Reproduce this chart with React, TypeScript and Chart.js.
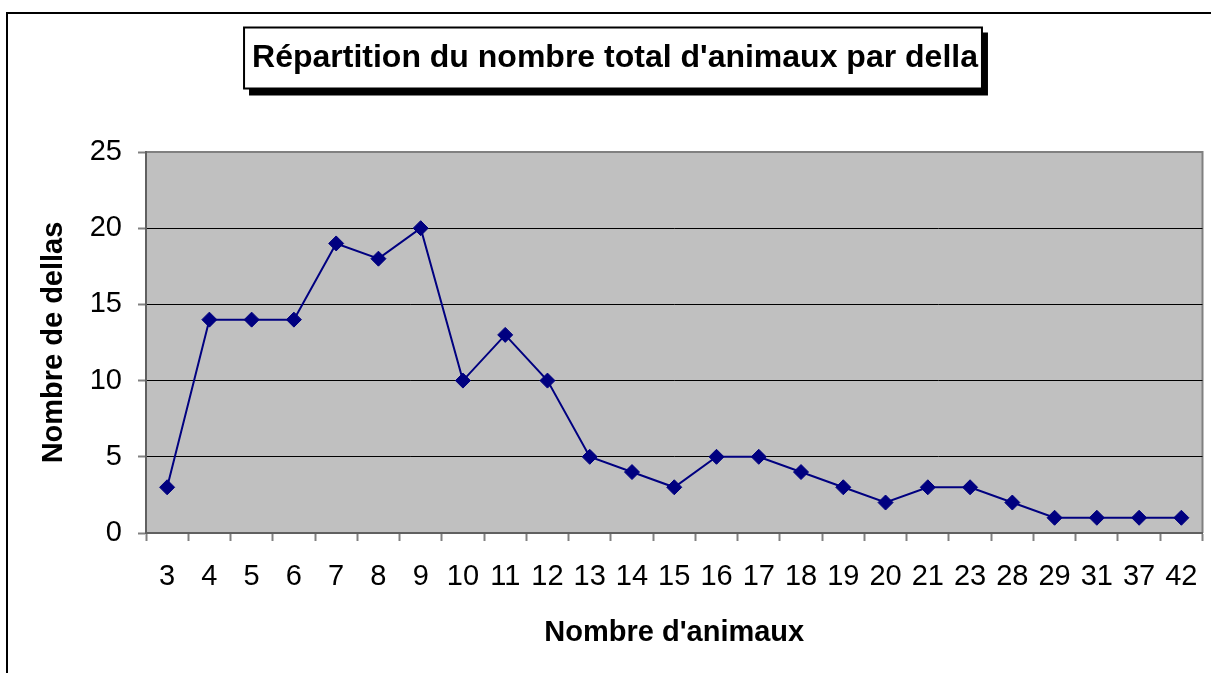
import React, { useEffect, useRef } from "react";
import { Chart, registerables } from "chart.js";

Chart.register(...registerables);

const categories: string[] = ["3", "4", "5", "6", "7", "8", "9", "10", "11", "12", "13", "14", "15", "16", "17", "18", "19", "20", "21", "23", "28", "29", "31", "37", "42"];
const dellaCounts: number[] = [3, 14, 14, 14, 19, 18, 20, 10, 13, 10, 5, 4, 3, 5, 5, 4, 3, 2, 3, 3, 2, 1, 1, 1, 1];
const yTicks: number[] = [0, 5, 10, 15, 20, 25];

const chartTitle = "Répartition du nombre total d'animaux par della";
const xTitle = "Nombre d'animaux";
const yTitle = "Nombre de dellas";

const FONT = "'Liberation Sans', Arial, Helvetica, sans-serif";

const decorPlugin = {
  id: "decor",
  beforeDraw(chart: any) {
    const { ctx, chartArea } = chart;
    ctx.save();
    // outer frame
    ctx.strokeStyle = "#000";
    ctx.lineWidth = 2;
    ctx.strokeRect(7, 13, 1400, 1000);
    // plot background
    ctx.fillStyle = "#C0C0C0";
    ctx.fillRect(chartArea.left, chartArea.top, chartArea.right - chartArea.left, chartArea.bottom - chartArea.top);
    ctx.strokeStyle = "#808080";
    ctx.lineWidth = 2;
    ctx.beginPath();
    ctx.moveTo(chartArea.left, chartArea.top);
    ctx.lineTo(chartArea.right, chartArea.top);
    ctx.lineTo(chartArea.right, chartArea.bottom);
    ctx.stroke();
    // title box with shadow
    const tb = chart.titleBlock;
    if (tb) {
      ctx.font = "bold 32px " + FONT;
      const w = ctx.measureText(chartTitle).width;
      const cx = (tb.left + tb.right) / 2;
      const cy = 58.5;
      const left = cx - w / 2 - 8;
      const right = cx + w / 2 + 4;
      const top = cy - 31;
      const bottom = cy + 30;
      ctx.fillStyle = "#000";
      ctx.fillRect(left + 5, top + 5, right - left + 1, bottom - top + 2);
      ctx.fillStyle = "#fff";
      ctx.fillRect(left, top, right - left, bottom - top);
      ctx.strokeStyle = "#000";
      ctx.lineWidth = 2;
      ctx.strokeRect(left, top, right - left, bottom - top);
    }
    ctx.restore();
  },
};

export default function App() {
  const ref = useRef<HTMLCanvasElement | null>(null);

  useEffect(() => {
    if (!ref.current) return;
    const chart = new Chart(ref.current, {
      type: "line",
      data: {
        labels: categories,
        datasets: [
          {
            label: yTitle,
            data: dellaCounts,
            borderColor: "#000080",
            backgroundColor: "#000080",
            borderWidth: 2,
            pointStyle: "rectRot",
            pointRadius: 7.5,
            pointBorderWidth: 1,
            pointBackgroundColor: "#000080",
            pointBorderColor: "#000080",
            tension: 0,
            fill: false,
          },
        ],
      },
      options: {
        responsive: false,
        animation: false,
        devicePixelRatio: 1,
        layout: { padding: { left: 25, right: 6, top: 0, bottom: 0 } },
        plugins: {
          legend: { display: false },
          tooltip: { enabled: false },
          title: {
            display: true,
            text: chartTitle,
            color: "#000",
            font: { family: FONT, size: 32, weight: "bold", lineHeight: 1.2 },
            padding: { top: 39.3, bottom: 74.3 },
          },
        },
        scales: {
          x: {
            type: "category",
            offset: true,
            afterFit: (scale: any) => {
              scale.height = 140;
              scale.paddingLeft = 0;
              scale.paddingRight = 0;
            },
            grid: {
              display: true,
              offset: true,
              drawOnChartArea: false,
              drawTicks: true,
              tickLength: 8,
              tickColor: "#808080",
              tickWidth: 2,
            },
            border: { display: true, color: "#606060", width: 2 },
            ticks: {
              autoSkip: false,
              maxRotation: 0,
              minRotation: 0,
              padding: 19,
              color: "#000",
              font: { family: FONT, size: 29 },
            },
            title: {
              display: true,
              text: xTitle,
              color: "#000",
              font: { family: FONT, size: 29, weight: "bold", lineHeight: 1.2 },
              padding: { top: 0, bottom: 23 },
            },
          },
          y: {
            min: 0,
            max: 25,
            afterFit: (scale: any) => {
              scale.width = 121;
            },
            afterBuildTicks: (scale: any) => {
              scale.ticks = yTicks.map((v) => ({ value: v }));
            },
            grid: {
              display: true,
              drawTicks: true,
              tickLength: 8,
              tickColor: "#808080",
              tickWidth: 2,
              lineWidth: 1,
              color: (c: any) => (c.tick && c.tick.value === 25 ? "#808080" : c.tick && c.tick.value === 0 ? "#606060" : "#000"),
            },
            border: { display: true, color: "#606060", width: 2 },
            ticks: {
              stepSize: 5,
              padding: 16,
              color: "#000",
              font: { family: FONT, size: 29 },
            },
            title: {
              display: true,
              text: yTitle,
              color: "#000",
              font: { family: FONT, size: 29, weight: "bold", lineHeight: 1.2 },
              padding: { top: 12, bottom: 0 },
            },
          },
        },
      },
      plugins: [decorPlugin],
    });
    return () => chart.destroy();
  }, []);

  return (
    <div style={{ position: "absolute", left: 0, top: 0, width: 1211, height: 673, background: "#fff" }}>
      <canvas ref={ref} width={1211} height={673} style={{ display: "block", width: 1211, height: 673 }} />
    </div>
  );
}
